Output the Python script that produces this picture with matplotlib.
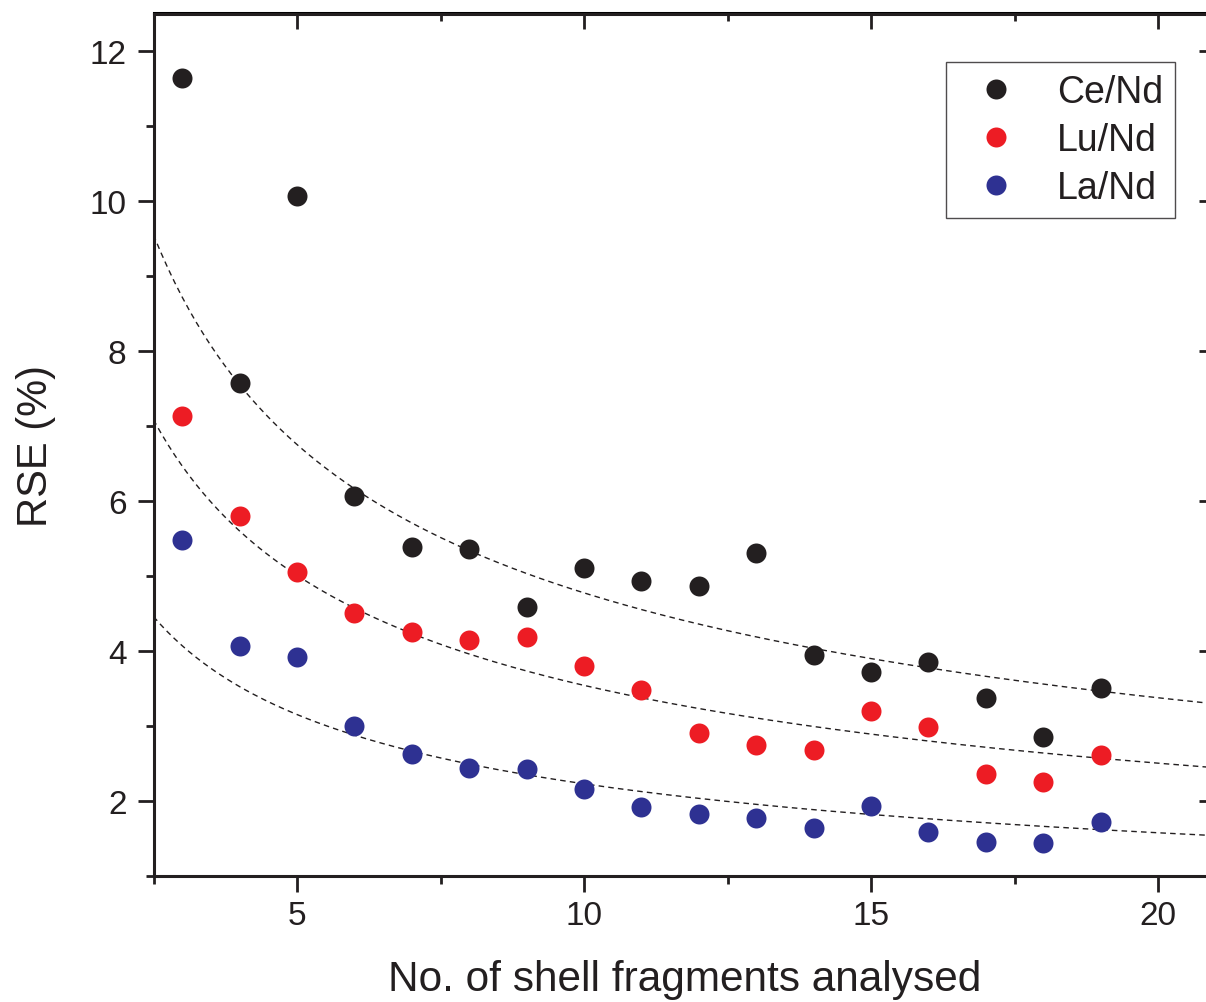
import numpy as np
import matplotlib
matplotlib.use('Agg')
import matplotlib.pyplot as plt
from matplotlib.ticker import MultipleLocator

plt.rcParams['font.family'] = ['Liberation Sans', 'DejaVu Sans']

# number of shell fragments
n = [3, 4, 5, 6, 7, 8, 9, 10, 11, 12, 13, 14, 15, 16, 17, 18, 19]

# RSE (%)
ce_nd = [11.64, 7.57, 10.07, 6.07, 5.39, 5.36, 4.59, 5.11, 4.93, 4.87, 5.31,
         3.95, 3.72, 3.85, 3.37, 2.85, 3.51]
lu_nd = [7.13, 5.80, 5.05, 4.51, 4.25, 4.15, 4.19, 3.80, 3.48, 2.91, 2.75,
         2.68, 3.20, 2.99, 2.36, 2.25, 2.61]
la_nd = [5.48, 4.07, 3.92, 3.00, 2.63, 2.44, 2.43, 2.16, 1.92, 1.83, 1.77,
         1.64, 1.93, 1.59, 1.45, 1.44, 1.72]

# fitted curves RSE = a * n^b (parameters)
fit_a = [15.1, 11.2, 7.05]
fit_b = -0.5

labels = ['Ce/Nd', 'Lu/Nd', 'La/Nd']
colors = ['#231f20', '#ed1c24', '#2e3192']

W, H = 1206, 1003
fig = plt.figure(figsize=(W / 100, H / 100), dpi=100)
ax = fig.add_axes([153.5 / W, 1 - 877 / H, (1215.4 - 153.5) / W, (877 - 14.5) / H])

xx = np.linspace(2.5, 21, 300)
for a in fit_a:
    ax.plot(xx, a * xx ** fit_b, color='#231f20', lw=1.0, ls=(0, (4, 3)), zorder=1)

for ys, lab, c in zip([ce_nd, lu_nd, la_nd], labels, colors):
    ax.plot(n, ys, 'o', ls='none', color=c, ms=14.4, mew=0, label=lab, zorder=3)

ax.set_xlim(2.5, 21)
ax.set_ylim(1, 12.5)
ax.xaxis.set_major_locator(MultipleLocator(5))
ax.xaxis.set_minor_locator(MultipleLocator(2.5))
ax.yaxis.set_major_locator(MultipleLocator(2))
ax.yaxis.set_minor_locator(MultipleLocator(1))

for s in ax.spines.values():
    s.set_linewidth(2.2)
    s.set_color('#231f20')

ax.tick_params(axis='both', which='both', color='#231f20', width=2.0,
               labelsize=24, labelcolor='#231f20')
ax.tick_params(axis='both', which='major', length=11.5)
ax.tick_params(axis='both', which='minor', length=5.8)
ax.tick_params(axis='x', which='both', direction='out', top=False, pad=6)
ax.tick_params(axis='y', which='both', direction='out', right=False, pad=8)

# inward ticks on top and right
sec_x = ax.secondary_xaxis('top')
sec_x.xaxis.set_major_locator(MultipleLocator(5))
sec_x.xaxis.set_minor_locator(MultipleLocator(2.5))
sec_x.tick_params(which='both', direction='in', width=2.0, color='#231f20',
                  labeltop=False)
sec_x.tick_params(which='major', length=11.5)
sec_x.tick_params(which='minor', length=5.8)
sec_x.spines['top'].set_linewidth(2.2)
sec_y = ax.secondary_yaxis('right')
sec_y.yaxis.set_major_locator(MultipleLocator(2))
sec_y.yaxis.set_minor_locator(MultipleLocator(1))
sec_y.tick_params(which='both', direction='in', width=2.0, color='#231f20',
                  labelright=False)
sec_y.tick_params(which='major', length=11.5)
sec_y.tick_params(which='minor', length=5.8)
sec_y.spines['right'].set_linewidth(2.2)

ax.set_xlabel('No. of shell fragments analysed', fontsize=30.5, color='#231f20', labelpad=20)
ax.set_ylabel('RSE (%)', fontsize=30, color='#231f20', labelpad=24)

leg = ax.legend(loc='upper right', bbox_to_anchor=(1175 / W, 1 - 63 / H),
                bbox_transform=fig.transFigure, borderaxespad=0, fontsize=27,
                frameon=True, fancybox=False, handletextpad=0.6,
                labelspacing=0.32, borderpad=0.32, handlelength=2.05)
leg.get_frame().set_edgecolor('#231f20')
leg.get_frame().set_linewidth(1.0)
for t in leg.get_texts():
    t.set_color('#231f20')

fig.savefig('out.png', dpi=100)
